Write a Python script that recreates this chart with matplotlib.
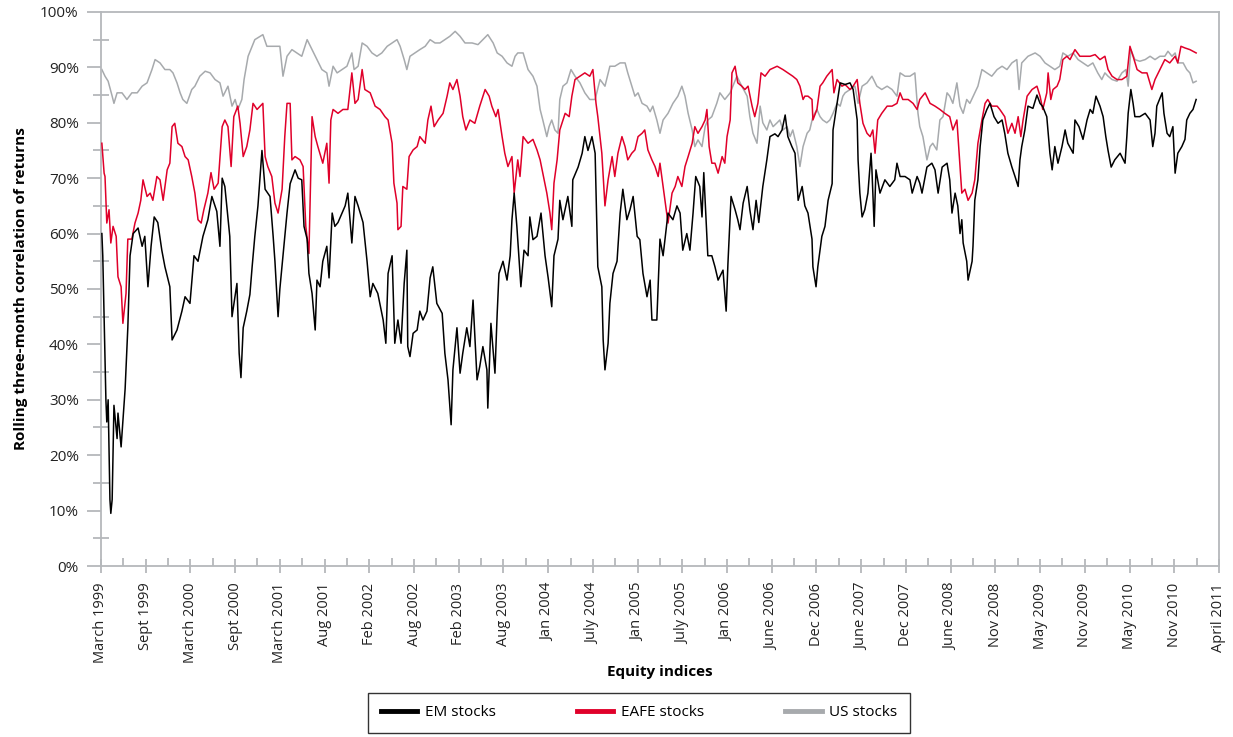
import matplotlib
matplotlib.use("Agg")
import matplotlib.pyplot as plt
from matplotlib.ticker import FixedLocator, PercentFormatter
import numpy as np

plt.rcParams['font.family'] = ['Open Sans', 'DejaVu Sans']

# category axis: one step per label (roughly half a year)
tick_labels = ["March 1999", "Sept 1999", "March 2000", "Sept 2000", "March 2001",
               "Aug 2001", "Feb 2002", "Aug 2002", "Feb 2003", "Aug 2003", "Jan 2004",
               "July 2004", "Jan 2005", "July 2005", "Jan 2006", "June 2006", "Dec 2006",
               "June 2007", "Dec 2007", "June 2008", "Nov 2008", "May 2009", "Nov 2009",
               "May 2010", "Nov 2010", "April 2011"]

# EM stocks (position in label steps, correlation %)
em_x = [0.02, 0.04, 0.11, 0.13, 0.16, 0.20, 0.22, 0.25, 0.29, 0.36, 0.38, 0.45, 0.54, 0.60,
        0.65, 0.72, 0.83, 0.92, 0.98, 1.05, 1.12, 1.19, 1.27, 1.36, 1.43, 1.54, 1.59, 1.70,
        1.81, 1.88, 1.99, 2.08, 2.17, 2.28, 2.39, 2.48, 2.59, 2.66, 2.71, 2.77, 2.88, 2.93,
        3.04, 3.09, 3.13, 3.18, 3.26, 3.33, 3.38, 3.44, 3.51, 3.60, 3.67, 3.78, 3.85, 3.89,
        3.96, 4.00, 4.07, 4.16, 4.23, 4.34, 4.41, 4.49, 4.54, 4.61, 4.65, 4.72, 4.79, 4.83,
        4.90, 4.96, 5.05, 5.10, 5.17, 5.23, 5.30, 5.39, 5.46, 5.52, 5.61, 5.68, 5.75, 5.86,
        5.95, 6.02, 6.08, 6.19, 6.31, 6.37, 6.42, 6.51, 6.57, 6.64, 6.71, 6.78, 6.84, 6.86,
        6.91, 6.98, 7.07, 7.13, 7.20, 7.29, 7.36, 7.42, 7.51, 7.63, 7.69, 7.76, 7.83, 7.87,
        7.96, 8.03, 8.09, 8.18, 8.25, 8.32, 8.41, 8.47, 8.54, 8.63, 8.65, 8.72, 8.81, 8.86,
        8.90, 8.99, 9.08, 9.15, 9.19, 9.24, 9.30, 9.39, 9.46, 9.55, 9.59, 9.66, 9.75, 9.84,
        9.93, 10.00, 10.08, 10.13, 10.22, 10.26, 10.33, 10.44, 10.53, 10.55, 10.67, 10.76,
        10.82, 10.89, 10.98, 11.05, 11.11, 11.20, 11.23, 11.27, 11.34, 11.38, 11.45, 11.54,
        11.61, 11.67, 11.76, 11.83, 11.90, 11.99, 12.05, 12.12, 12.21, 12.28, 12.32, 12.39,
        12.43, 12.50, 12.57, 12.68, 12.79, 12.88, 12.95, 13.01, 13.10, 13.17, 13.24, 13.30,
        13.39, 13.44, 13.48, 13.57, 13.66, 13.73, 13.80, 13.91, 13.98, 14.02, 14.09, 14.18,
        14.24, 14.29, 14.36, 14.45, 14.51, 14.58, 14.65, 14.71, 14.80, 14.89, 14.96, 15.07,
        15.14, 15.23, 15.30, 15.36, 15.45, 15.52, 15.59, 15.68, 15.74, 15.81, 15.90, 15.92,
        15.99, 16.03, 16.12, 16.19, 16.26, 16.35, 16.37, 16.46, 16.53, 16.64, 16.75, 16.82,
        16.91, 16.93, 16.97, 17.02, 17.08, 17.15, 17.22, 17.24, 17.29, 17.33, 17.42, 17.53,
        17.64, 17.75, 17.80, 17.87, 17.98, 18.09, 18.14, 18.25, 18.31, 18.36, 18.47, 18.58,
        18.65, 18.72, 18.81, 18.92, 18.98, 19.03, 19.10, 19.16, 19.21, 19.25, 19.28, 19.36,
        19.39, 19.48, 19.50, 19.54, 19.61, 19.66, 19.72, 19.81, 19.88, 19.97, 20.06, 20.15,
        20.21, 20.28, 20.37, 20.44, 20.51, 20.55, 20.59, 20.66, 20.73, 20.84, 20.93, 21.00,
        21.06, 21.15, 21.22, 21.27, 21.33, 21.40, 21.49, 21.56, 21.62, 21.74, 21.78, 21.87,
        21.96, 22.05, 22.12, 22.18, 22.25, 22.34, 22.41, 22.47, 22.52, 22.59, 22.67, 22.79,
        22.90, 22.94, 22.97, 23.03, 23.08, 23.12, 23.23, 23.35, 23.46, 23.52, 23.57, 23.61,
        23.73, 23.77, 23.84, 23.90, 23.97, 24.02, 24.08, 24.17, 24.24, 24.28, 24.35, 24.42,
        24.49]
em_y = [60, 56, 30, 26, 30, 12, 9.5, 12, 29, 23, 27.6, 21.5, 32, 43,
        56, 60, 61, 57.7, 59.5, 50.4, 57.7, 63, 62, 57, 54, 50.4, 40.8, 42.6,
        46, 48.6, 47.4, 56, 55, 59.5, 62.5, 66.7, 64, 57.7, 70, 68.5, 59.5, 45,
        51, 38.4, 34, 43, 46, 49, 54, 59.5, 65, 75, 68, 66.7, 59.5, 55,
        45, 50, 56, 63.7, 69, 71.5, 70, 69.7, 61.3, 59, 52.8, 49.2, 42.6, 51.6,
        50.4, 55, 57.7, 52, 63.7, 61.3, 62, 63.7, 65, 67.3, 58.3, 66.7, 65, 62,
        55, 48.6, 51, 49.2, 44.4, 40.2, 52.8, 56, 40.2, 44.4, 40.2, 51, 57, 39.6,
        37.8, 42, 42.6, 46, 44.4, 46, 52, 54, 47.4, 45.6, 38.4, 33.6, 25.5, 35.4,
        43, 34.8, 38.4, 43, 39.6, 48, 33.6, 36, 39.6, 35.4, 28.5, 43.8, 34.8, 45.6,
        52.8, 55, 51.6, 56, 62.5, 67.3, 61.3, 50.4, 57, 56, 63, 58.9, 59.5, 63.7,
        56, 52, 46.8, 56, 59, 66, 62.5, 66.7, 61.3, 69.7, 72, 74.5,
        77.5, 75, 77.5, 74.5, 54, 50.4, 40.8, 35.4, 40.2, 47.4, 52.8, 55,
        63.7, 68, 62.5, 64.3, 66.7, 59.5, 58.9, 52.8, 48.6, 51.6, 44.4, 44.4,
        44.4, 59, 56, 63.7, 62.5, 65, 63.7, 57, 60, 57, 63.7, 70.3,
        68.5, 63, 71, 56, 56, 54, 51.6, 53.4, 46, 54.6, 66.7, 64.3,
        62.5, 60.7, 65.5, 68.5, 64.3, 60.7, 66, 62, 68.5, 73.3, 77.5, 78,
        77.5, 78.7, 81.4, 77.5, 75.7, 74.5, 66, 68.5, 65, 63.7, 59, 54,
        50.4, 54, 59.5, 61.3, 66, 69, 78.7, 83.5, 87.2, 86.9, 87.2, 86,
        80.5, 73.3, 67.3, 63, 64.3, 67.3, 74.5, 71.5, 61.3, 71.5, 67.3, 69.7,
        68.5, 69.7, 72.7, 70.3, 70.3, 69.7, 67.3, 70.3, 69.1, 67.3, 72, 72.7,
        71.5, 67.3, 72, 72.7, 69.7, 63.7, 67.3, 65, 60, 62.5, 58.3, 55,
        51.6, 55, 57.7, 66, 69.7, 75.7, 80.5, 82.4, 83.5, 81.1, 79.9, 80.5,
        78.1, 74.5, 72, 70.3, 68.5, 73.3, 75.7, 78.7, 83, 82.6, 85, 83.5,
        82.9, 81.1, 74.5, 71.5, 75.7, 72.7, 75.7, 78.7, 76.3, 74.5, 80.5, 79.3,
        77, 80.5, 82.4, 81.7, 84.8, 83, 81.1, 77.5, 75, 72, 73.3, 74.5,
        72.7, 77.5, 81.7, 86, 83.5, 81.1, 81.1, 81.7, 80.5, 75.7, 78.1, 83,
        85.4, 81.7, 78.1, 77.5, 79.3, 70.9, 74.5, 75.7, 77, 80.5, 81.7, 82.4,
        84.2]

# EAFE stocks
eafe_x = [0.02, 0.07, 0.09, 0.13, 0.18, 0.22, 0.27, 0.34, 0.38, 0.45, 0.49, 0.56, 0.60, 0.69,
          0.76, 0.83, 0.89, 0.94, 1.03, 1.10, 1.16, 1.25, 1.32, 1.39, 1.48, 1.54, 1.59, 1.65,
          1.72, 1.81, 1.88, 1.95, 2.03, 2.10, 2.17, 2.24, 2.30, 2.39, 2.46, 2.53, 2.62, 2.71,
          2.77, 2.84, 2.91, 2.97, 3.06, 3.11, 3.18, 3.26, 3.33, 3.40, 3.49, 3.56, 3.62, 3.67,
          3.73, 3.82, 3.89, 3.96, 4.05, 4.11, 4.16, 4.23, 4.27, 4.34, 4.45, 4.52, 4.58, 4.65,
          4.72, 4.79, 4.85, 4.96, 5.05, 5.10, 5.14, 5.19, 5.30, 5.41, 5.52, 5.61, 5.68, 5.75,
          5.84, 5.90, 6.02, 6.13, 6.24, 6.35, 6.42, 6.51, 6.55, 6.62, 6.64, 6.71, 6.75, 6.84,
          6.89, 6.98, 7.07, 7.13, 7.25, 7.31, 7.38, 7.45, 7.54, 7.65, 7.74, 7.80, 7.87, 7.96,
          8.03, 8.09, 8.16, 8.25, 8.36, 8.47, 8.59, 8.68, 8.74, 8.83, 8.88, 8.97, 9.03, 9.10,
          9.19, 9.24, 9.32, 9.37, 9.44, 9.55, 9.66, 9.75, 9.82, 9.88, 9.97, 10.04, 10.08,
          10.13, 10.20, 10.26, 10.38, 10.47, 10.53, 10.60, 10.71, 10.82, 10.93, 11.00, 11.07,
          11.11, 11.20, 11.27, 11.34, 11.43, 11.49, 11.56, 11.65, 11.72, 11.78, 11.87, 11.94,
          12.01, 12.10, 12.16, 12.23, 12.32, 12.39, 12.46, 12.50, 12.57, 12.63, 12.68, 12.77,
          12.84, 12.90, 12.99, 13.06, 13.13, 13.22, 13.28, 13.35, 13.44, 13.51, 13.55, 13.60,
          13.66, 13.73, 13.80, 13.89, 13.95, 14.00, 14.07, 14.11, 14.18, 14.24, 14.33, 14.40,
          14.47, 14.56, 14.62, 14.69, 14.76, 14.85, 14.96, 15.12, 15.25, 15.36, 15.47, 15.56,
          15.63, 15.70, 15.74, 15.81, 15.90, 15.92, 16.01, 16.08, 16.14, 16.23, 16.35, 16.39,
          16.46, 16.57, 16.64, 16.75, 16.82, 16.91, 16.97, 17.04, 17.13, 17.20, 17.26, 17.31,
          17.37, 17.46, 17.58, 17.69, 17.80, 17.87, 17.93, 18.05, 18.16, 18.25, 18.31, 18.43,
          18.54, 18.65, 18.76, 18.87, 18.98, 19.05, 19.14, 19.21, 19.25, 19.32, 19.39, 19.48,
          19.54, 19.61, 19.70, 19.77, 19.83, 19.92, 20.04, 20.10, 20.21, 20.28, 20.37, 20.44,
          20.51, 20.57, 20.62, 20.71, 20.82, 20.93, 21.00, 21.06, 21.15, 21.18, 21.24, 21.29,
          21.38, 21.44, 21.51, 21.60, 21.67, 21.78, 21.89, 22.00, 22.12, 22.23, 22.34, 22.45,
          22.52, 22.61, 22.72, 22.83, 22.94, 23.01, 23.08, 23.17, 23.28, 23.39, 23.50, 23.57,
          23.68, 23.79, 23.90, 24.02, 24.08, 24.15, 24.24, 24.35, 24.42, 24.49]
eafe_y = [76.3, 70.9, 70.3, 61.9, 64.3, 58.3, 61.3, 59.5, 52.2, 50.4, 43.8, 49.2, 59, 59,
          61.9, 63.7, 66, 69.7, 66.7, 67.3, 66, 70.3, 69.7, 66, 71.5, 72.7, 79.3, 79.9,
          76.3, 75.7, 73.9, 73.3, 70.3, 67.3, 62.5, 61.9, 64.3, 67.3, 71, 68, 69.1, 79.3,
          80.5, 79.3, 72.1, 81.1, 83, 79.9, 73.9, 75.7, 78.7, 83.5, 82.4, 83, 83.5, 73.9,
          72.1, 70.3, 65.5, 63.7, 68, 77.5, 83.5, 83.5, 73.3, 73.9, 73.3, 72.1, 61.3, 56.4,
          81.1, 77.5, 75.7, 72.7, 76.3, 69.1, 80.5, 82.4, 81.7, 82.4, 82.4, 89, 83.5, 84.2,
          89.6, 86, 85.4, 83, 82.4, 81.1, 80.5, 76.3, 69.1, 65.5, 60.7, 61.3, 68.5, 68,
          73.9, 75.1, 75.7, 77.5, 76.3, 80.5, 83, 79.3, 80.5, 81.7, 84.8, 87.2, 86, 87.8,
          84.8, 81.1, 78.7, 80.5, 79.9, 83, 86, 84.8, 83, 81.1, 82.4, 77.5, 74.5, 72.1,
          73.9, 67.3, 73.3, 70.3, 77.5, 76.3, 77, 75.1, 73.3, 70.9, 67.3, 63.7, 60.7,
          69.1, 73.3, 78.7, 81.7, 81.1, 84.8, 87.8, 88.4, 89, 88.4, 89.6, 83.5,
          81.1, 74.5, 65, 69.7, 73.9, 70.3, 74.5, 77.5, 75.7, 73.3, 74.5, 75.1,
          77.5, 78.1, 78.7, 75.1, 73.3, 72.1, 70.3, 72.7, 68.5, 65, 61.9, 67.3,
          68.5, 70.3, 68.5, 72.1, 73.9, 76.3, 79.3, 78.1, 79.3, 80.5, 82.4, 75.7,
          72.7, 72.7, 70.9, 73.9, 72.7, 77.5, 80.5, 89, 90.2, 87.2, 86.6, 86,
          86.6, 83, 81.1, 83.5, 89, 88.4, 89.6, 90.2, 89.6, 89, 88.4, 87.8,
          86.6, 84.2, 84.8, 84.8, 84.2, 80.5, 82.4, 86.6, 87.2, 88.4, 89.6, 85.4,
          87.8, 86.6, 86.9, 86, 86.6, 87.8, 83.5, 79.9, 78.1, 77.5, 78.7, 74.5,
          80.5, 81.7, 83, 83, 83.5, 85.4, 84.2, 84.2, 83.5, 82.4, 84.2, 85.4,
          83.5, 83, 82.4, 81.7, 81.1, 78.7, 80.5, 72.1, 67.3, 68, 66, 67.3,
          69.7, 76.3, 80.5, 83.5, 84.2, 83, 83, 82.4, 81.1, 78.1, 79.9, 78.1,
          81.1, 77.5, 80.5, 84.8, 86, 86.6, 84.8, 82.4, 85.4, 89, 84.2, 86,
          86.6, 87.8, 91.4, 92, 91.4, 93.2, 92, 92, 92, 92.3, 91.4, 92,
          89.6, 88.4, 87.8, 87.8, 88.4, 93.8, 92, 89.6, 89, 89, 86, 87.8,
          89.6, 91.4, 90.8, 92, 90.8, 93.8, 93.5, 93.2, 92.9, 92.6]

# US stocks
us_x = [0.02, 0.09, 0.16, 0.25, 0.29, 0.36, 0.47, 0.58, 0.69, 0.81, 0.92, 1.03, 1.14, 1.21,
        1.32, 1.43, 1.54, 1.61, 1.70, 1.77, 1.83, 1.92, 2.03, 2.10, 2.21, 2.33, 2.44, 2.55,
        2.66, 2.73, 2.84, 2.93, 3.00, 3.06, 3.15, 3.20, 3.29, 3.38, 3.44, 3.56, 3.62, 3.71,
        3.82, 3.94, 4.00, 4.07, 4.16, 4.27, 4.38, 4.49, 4.61, 4.72, 4.83, 4.94, 5.05, 5.10,
        5.19, 5.28, 5.39, 5.50, 5.61, 5.66, 5.75, 5.84, 5.95, 6.06, 6.17, 6.28, 6.40, 6.51,
        6.62, 6.69, 6.78, 6.84, 6.91, 7.02, 7.13, 7.25, 7.36, 7.47, 7.58, 7.69, 7.80, 7.92,
        8.03, 8.14, 8.30, 8.43, 8.54, 8.65, 8.77, 8.86, 8.97, 9.08, 9.19, 9.26, 9.32, 9.44,
        9.55, 9.66, 9.75, 9.82, 9.88, 9.97, 10.02, 10.08, 10.15, 10.22, 10.26, 10.33, 10.42,
        10.51, 10.60, 10.71, 10.82, 10.93, 11.05, 11.16, 11.27, 11.38, 11.49, 11.61, 11.72,
        11.78, 11.87, 11.94, 12.01, 12.10, 12.21, 12.28, 12.34, 12.43, 12.50, 12.57, 12.68,
        12.79, 12.90, 12.99, 13.06, 13.13, 13.22, 13.28, 13.35, 13.44, 13.51, 13.57, 13.66,
        13.77, 13.84, 13.95, 14.07, 14.13, 14.22, 14.33, 14.45, 14.51, 14.58, 14.67, 14.74,
        14.80, 14.89, 14.96, 15.03, 15.12, 15.18, 15.25, 15.34, 15.41, 15.47, 15.56, 15.63,
        15.70, 15.79, 15.85, 15.92, 16.01, 16.08, 16.14, 16.23, 16.30, 16.37, 16.46, 16.53,
        16.59, 16.64, 16.75, 16.86, 16.93, 17.02, 17.13, 17.24, 17.35, 17.46, 17.58, 17.69,
        17.80, 17.87, 17.98, 18.09, 18.20, 18.27, 18.31, 18.38, 18.47, 18.54, 18.60, 18.69,
        18.76, 18.83, 18.92, 18.98, 19.05, 19.14, 19.21, 19.28, 19.36, 19.43, 19.54, 19.61,
        19.70, 19.81, 19.92, 20.04, 20.15, 20.26, 20.37, 20.48, 20.53, 20.59, 20.66, 20.73,
        20.89, 21.00, 21.11, 21.22, 21.33, 21.44, 21.51, 21.62, 21.74, 21.85, 21.96, 22.07,
        22.18, 22.29, 22.38, 22.45, 22.52, 22.61, 22.72, 22.83, 22.92, 22.97, 23.03, 23.12,
        23.23, 23.35, 23.46, 23.57, 23.68, 23.79, 23.86, 23.95, 24.02, 24.08, 24.20, 24.28,
        24.35, 24.42, 24.49]
us_y = [89.6, 88.4, 87.5, 84.8, 83.5, 85.4, 85.4, 84.2, 85.4, 85.4, 86.6, 87.2, 89.6, 91.4,
        90.8, 89.6, 89.6, 89, 87.2, 85.4, 84.2, 83.5, 86, 86.6, 88.4, 89.3, 89, 87.8,
        87.2, 84.8, 86.6, 83, 84.2, 82.4, 84.2, 87.8, 92, 93.8, 95, 95.6, 95.9, 93.8,
        93.8, 93.8, 93.8, 88.4, 92, 93.2, 92.6, 92, 95, 93.2, 91.4, 89.6, 89, 86.6,
        90.2, 89, 89.6, 90.2, 92.6, 89.6, 90.2, 94.4, 93.8, 92.6, 92, 92.6, 93.8, 94.4,
        95, 93.8, 91.4, 89.6, 92, 92.6, 93.2, 93.8, 95, 94.4, 94.4, 95, 95.6, 96.5,
        95.6, 94.4, 94.4, 94.1, 95, 95.9, 94.4, 92.6, 92, 90.8, 90.2, 92, 92.6, 92.6,
        89.6, 88.4, 86.6, 82.4, 80.5, 77.5, 79.3, 80.5, 78.7, 78.1, 84.2, 86.6, 87.2,
        89.6, 88.4, 87.2, 85.4, 84.2, 84.2, 87.8, 86.6, 90.2, 90.2, 90.8, 90.8,
        89, 86.6, 84.8, 85.4, 83.5, 83, 82, 83, 80.5, 78.1, 80.5, 81.7,
        83.5, 84.8, 86.6, 84.8, 81.7, 78.7, 75.7, 76.9, 75.7, 79.3, 80.5, 81.1,
        83.5, 85.4, 84.2, 85.4, 86.6, 88.4, 86.6, 84.8, 81.1, 78.1, 76.3, 83,
        80, 78.7, 80.5, 79.3, 80, 80.5, 78.7, 79.3, 77.5, 78.7, 75.7, 72.1,
        75.7, 78.1, 78.7, 81.1, 82.4, 81.1, 80.5, 80, 80.5, 81.7, 83.5, 83,
        84.8, 85.4, 86, 86.6, 83.5, 86.6, 87.2, 88.4, 86.6, 86, 86.6, 86,
        84.8, 89, 88.4, 88.4, 89, 81.7, 79.3, 77.5, 73.3, 75.7, 76.3, 75.1,
        80.5, 81.1, 85.4, 84.8, 83.5, 87.2, 83, 81.7, 84.2, 83.5, 85.4, 86.6,
        89.6, 89, 88.4, 89.6, 90.2, 89.6, 90.8, 91.4, 86, 90.8, 91.4, 92,
        92.6, 92, 90.8, 90.2, 89.6, 90.2, 92.6, 92, 92.6, 91.4, 90.8, 90.2,
        90.8, 89, 87.8, 89, 88.4, 87.8, 87.5, 89, 89.6, 86.6, 93.2, 91.4,
        91.1, 91.4, 92, 91.4, 92, 92, 92.9, 92, 92.6, 90.8, 90.8, 89.6,
        89, 87.2, 87.5]

axis_grey = "#b5b8bb"

fig = plt.figure(figsize=(12.33, 7.37), dpi=100)
ax = fig.add_axes([0.0819, 0.232, 0.9067, 0.7518])

ax.plot(us_x, us_y, color="#a7aaad", lw=1.1, zorder=2)
ax.plot(eafe_x, eafe_y, color="#e0002a", lw=1.1, zorder=3)
ax.plot(em_x, em_y, color="black", lw=1.1, zorder=4)

ax.set_xlim(0, len(tick_labels) - 1)
ax.set_ylim(0, 100)

ax.set_xticks(range(len(tick_labels)))
ax.set_xticklabels(tick_labels, rotation=90, fontsize=10.5, color="#222222")
ax.xaxis.set_minor_locator(FixedLocator(np.arange(0.5, len(tick_labels) - 1, 1)))
ax.tick_params(axis="x", which="major", direction="inout", length=10, width=1.3,
               color=axis_grey, pad=7)
ax.tick_params(axis="x", which="minor", direction="in", length=6, width=1.3, color=axis_grey)

ax.set_yticks(np.arange(0, 101, 10))
ax.yaxis.set_major_formatter(PercentFormatter(decimals=0))
ax.yaxis.set_minor_locator(FixedLocator(np.arange(5, 100, 10)))
ax.tick_params(axis="y", which="major", direction="out", length=10, width=1.3,
               color=axis_grey, labelsize=11, labelcolor="#222222", pad=6)
ax.tick_params(axis="y", which="minor", direction="inout", length=11, width=1.3,
               color=axis_grey)

for side in ["left", "bottom", "top", "right"]:
    ax.spines[side].set_color(axis_grey)
    ax.spines[side].set_linewidth(1.3)

ax.set_ylabel("Rolling three-month correlation of returns", fontsize=11,
              fontweight="bold", labelpad=9)
ax.set_xlabel("Equity indices", fontsize=11, fontweight="bold", labelpad=1)

handles = [plt.Line2D([], [], color="black", lw=3.5),
           plt.Line2D([], [], color="#e0002a", lw=3.5),
           plt.Line2D([], [], color="#a7aaad", lw=3.5)]
leg = fig.legend(handles, ["EM stocks", "EAFE stocks", "US stocks"], loc="center",
                 bbox_to_anchor=(639 / 1233, 1 - 713 / 737), ncol=3, fontsize=11,
                 frameon=True, fancybox=False, edgecolor="black", handlelength=2.4,
                 columnspacing=5.3, borderpad=0.85, handletextpad=0.5, borderaxespad=0)
leg.get_frame().set_linewidth(1.0)

fig.savefig("out.png", dpi=100)
